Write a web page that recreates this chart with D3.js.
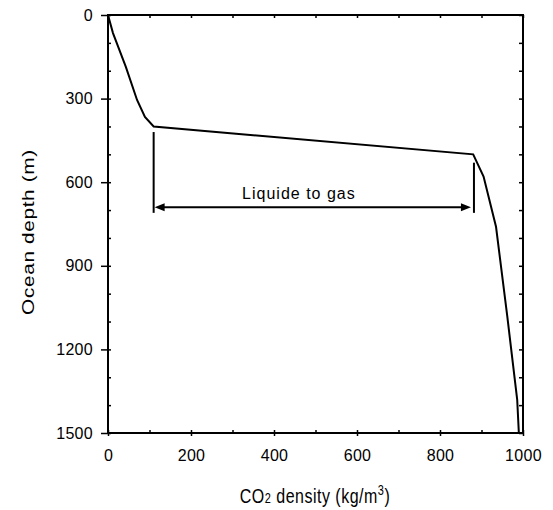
<!DOCTYPE html>
<html><head><meta charset="utf-8">
<script src="https://cdn.jsdelivr.net/npm/d3@7"></script>
<style>
body{margin:0;background:#fff;}
text{font-family:"Liberation Sans",Arial,sans-serif;fill:#000;}
</style></head>
<body><svg id="c" width="553" height="510"></svg>
<script>
// Data
const density = [0, 12, 43, 70, 89, 110, 880, 905, 935, 962, 986, 990];
const depth   = [0, 65, 186, 305, 366, 400, 500, 580, 760, 1080, 1380, 1500];
const xTicks = [0, 200, 400, 600, 800, 1000];
const yTicks = [0, 300, 600, 900, 1200, 1500];
const annotation = {label: "Liquide to gas", from: 110, to: 877, depth: 690, textDepth: 660,
  leftTop: 420, rightTop: 530, bottom: 710};

const svg = d3.select("#c");
const m = {l:108, r:523, t:15, b:433};
const x = d3.scaleLinear().domain([0,1000]).range([m.l, m.r]);
const y = d3.scaleLinear().domain([0,1500]).range([m.t, m.b]);

const minorX = d3.range(0, 1001, 100);
const minorY = d3.range(0, 1501, 100);

// axes
const ax = svg.append("g");
ax.append("g").attr("transform",`translate(0,${m.b})`)
  .call(d3.axisBottom(x).tickValues(xTicks).tickSize(3).tickPadding(14).tickFormat(d3.format("d")));
ax.append("g").attr("transform",`translate(${m.l},0)`)
  .call(d3.axisLeft(y).tickValues(yTicks).tickSize(7).tickPadding(8).tickFormat(d3.format("d")));
// minor inner ticks
ax.append("g").attr("transform",`translate(0,${m.b})`).call(d3.axisTop(x).tickValues(minorX).tickSize(3).tickFormat(""));
ax.append("g").attr("transform",`translate(0,${m.t})`).call(d3.axisBottom(x).tickValues(minorX).tickSize(3).tickFormat(""));
ax.append("g").attr("transform",`translate(${m.l},0)`).call(d3.axisRight(y).tickValues(minorY).tickSize(3).tickFormat(""));
ax.append("g").attr("transform",`translate(${m.r},0)`).call(d3.axisLeft(y).tickValues(minorY).tickSize(4).tickFormat(""));
ax.selectAll(".domain").remove();
ax.selectAll("line").attr("stroke","#000").attr("stroke-width",1.5);
ax.selectAll("text").style("font-size","16px").style("letter-spacing","0.3px")
  .style("font-family","'Liberation Sans',Arial,sans-serif").attr("fill","#000");

// frame
svg.append("rect").attr("x",m.l).attr("y",m.t).attr("width",m.r-m.l).attr("height",m.b-m.t)
  .attr("fill","none").attr("stroke","#000").attr("stroke-width",2);

// curve
const pts = density.map((d,i)=>[d, depth[i]]);
svg.append("path").datum(pts)
  .attr("d", d3.line().x(d=>x(d[0])).y(d=>y(d[1])))
  .attr("fill","none").attr("stroke","#000").attr("stroke-width",2);

// annotation
const a = annotation;
svg.append("line").attr("x1",x(a.from)).attr("x2",x(a.from)).attr("y1",y(a.leftTop)).attr("y2",y(a.bottom))
  .attr("stroke","#000").attr("stroke-width",2);
svg.append("line").attr("x1",x(a.to)+2).attr("x2",x(a.to)+2).attr("y1",y(a.rightTop)).attr("y2",y(a.bottom))
  .attr("stroke","#000").attr("stroke-width",2);
svg.append("line").attr("x1",x(a.from)+8).attr("x2",x(a.to)-8).attr("y1",y(a.depth)).attr("y2",y(a.depth))
  .attr("stroke","#000").attr("stroke-width",2);
const ay = y(a.depth);
svg.append("path").attr("d",`M${x(a.from)+1},${ay} L${x(a.from)+11},${ay-4} L${x(a.from)+11},${ay+4}Z`).attr("fill","#000");
svg.append("path").attr("d",`M${x(a.to)-1},${ay} L${x(a.to)-11},${ay-4} L${x(a.to)-11},${ay+4}Z`).attr("fill","#000");
svg.append("text").attr("x",x(460)).attr("y",y(a.textDepth)).attr("text-anchor","middle")
  .style("font-size","16px").style("letter-spacing","1px").text(a.label);

// axis titles
const xt = svg.append("text").attr("transform",`translate(315,503) scale(1,1.3)`).attr("text-anchor","middle")
  .style("font-size","16px").style("letter-spacing","0.5px");
xt.append("tspan").text("CO");
xt.append("tspan").attr("font-size","11px").text("2");
xt.append("tspan").text(" density (kg/m");
xt.append("tspan").attr("font-size","11px").attr("dy",-6).text("3");
xt.append("tspan").attr("dy",6).text(")");

svg.append("text").attr("transform",`translate(34,232) rotate(-90) scale(1.3,1)`).attr("text-anchor","middle")
  .style("font-size","16px").style("letter-spacing","0.5px").text("Ocean depth (m)");
</script></body></html>
